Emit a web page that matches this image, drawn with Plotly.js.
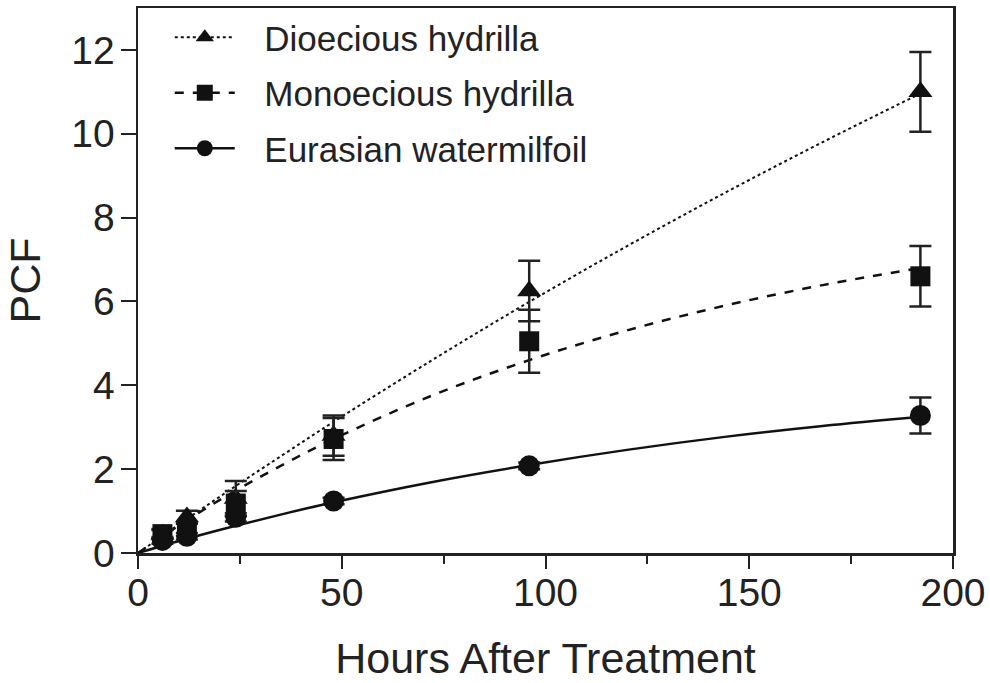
<!DOCTYPE html>
<html><head><meta charset="utf-8">
<script src="https://cdn.plot.ly/plotly-3.0.1.min.js"></script>
<style>html,body{margin:0;padding:0;background:#fff}#chart{width:990px;height:683px}</style>
</head><body><div id="chart"></div>
<script>
// Observed means and standard errors
const hours = [6, 12, 24, 48, 96, 192];
const dioeciousMean = [0.45, 0.86, 1.3, 2.8, 6.25, 11.0];
const dioeciousErr  = [0.1, 0.15, 0.42, 0.48, 0.72, 0.95];
const monoeciousMean = [0.45, 0.55, 1.18, 2.72, 5.05, 6.6];
const monoeciousErr  = [0.12, 0.15, 0.3, 0.5, 0.75, 0.72];
const eurasianMean = [0.3, 0.4, 0.85, 1.24, 2.08, 3.28];
const eurasianErr  = [0.08, 0.08, 0.1, 0.08, 0.08, 0.43];
// Fitted curves
const curveHours = [0, 12, 24, 36, 48, 72, 96, 120, 144, 168, 192];
const dioeciousFit = [0, 0.81, 1.60, 2.37, 3.13, 4.59, 5.99, 7.32, 8.59, 9.80, 10.96];
const monoeciousFit = [0, 0.78, 1.49, 2.13, 2.72, 3.75, 4.60, 5.31, 5.90, 6.39, 6.80];
const eurasianFit = [0, 0.34, 0.65, 0.94, 1.21, 1.69, 2.10, 2.46, 2.77, 3.03, 3.25];
const names = ['Dioecious hydrilla', 'Monoecious hydrilla', 'Eurasian watermilfoil'];
const xTicks = [0, 50, 100, 150, 200];
const yTicks = [0, 2, 4, 6, 8, 10, 12];

const ink = '#111';
const symbols = ['triangle-up', 'square', 'circle'];
const dashes = ['dot', 'dash', 'solid'];
const widths = [2, 2.5, 2.5];
const means = [dioeciousMean, monoeciousMean, eurasianMean];
const errs = [dioeciousErr, monoeciousErr, eurasianErr];
const fits = [dioeciousFit, monoeciousFit, eurasianFit];
const msize = [21, 20, 21];

const traces = [];
for (let i = 0; i < 3; i++) {
  traces.push({x: curveHours, y: fits[i], mode: 'lines', line: {color: ink, width: widths[i], dash: dashes[i], shape: 'spline'}, showlegend: false, hoverinfo: 'skip'});
}
for (let i = 0; i < 3; i++) {
  traces.push({x: hours, y: means[i], mode: 'markers', marker: {symbol: symbols[i], size: msize[i], color: ink},
    error_y: {type: 'data', array: errs[i], visible: true, color: '#222', thickness: 2.5, width: 11}, showlegend: false});
}
for (let i = 0; i < 3; i++) {
  traces.push({x: [null], y: [null], name: '\u2002\u2009' + names[i], legendgroup: 'g' + i, mode: 'lines+markers', marker: {symbol: symbols[i], size: msize[i], color: ink},
    line: {color: ink, width: widths[i], dash: dashes[i]}});
}

const layout = {
  width: 990, height: 683,
  margin: {l: 138, r: 37, t: 8, b: 130},
  paper_bgcolor: '#fff', plot_bgcolor: '#fff',
  font: {family: 'Liberation Sans, Arial, sans-serif', color: '#222'},
  showlegend: true,
  legend: {x: 0.039, y: 1.0, xanchor: 'left', yanchor: 'top', font: {size: 35, color: '#222'}, itemwidth: 60, tracegroupgap: 7, bgcolor: 'rgba(0,0,0,0)'},
  xaxis: {range: [0, 200], tickvals: xTicks, ticktext: xTicks.map(String), ticks: 'outside', ticklen: 13, tickwidth: 2, tickcolor: '#222',
    showline: true, linewidth: 2.5, linecolor: '#222', mirror: true, showgrid: false, zeroline: false,
    tickfont: {size: 39}, ticklabelstandoff: -9, title: {text: 'Hours After Treatment', font: {size: 43}, standoff: 30},
    minor: {dtick: 25, tick0: 0, ticks: 'outside', ticklen: 8, tickwidth: 2, tickcolor: '#222', showgrid: false}},
  yaxis: {range: [0, 13], tickvals: yTicks, ticktext: yTicks.map(String), ticks: 'outside', ticklen: 15, tickwidth: 2, tickcolor: '#222',
    showline: true, linewidth: 2.5, linecolor: '#222', mirror: true, showgrid: false, zeroline: false,
    tickfont: {size: 39}, ticklabelstandoff: -2, title: {text: 'PCF', font: {size: 43}, standoff: 18}}
};
Plotly.newPlot('chart', traces, layout, {displayModeBar: false, staticPlot: true});
</script></body></html>
